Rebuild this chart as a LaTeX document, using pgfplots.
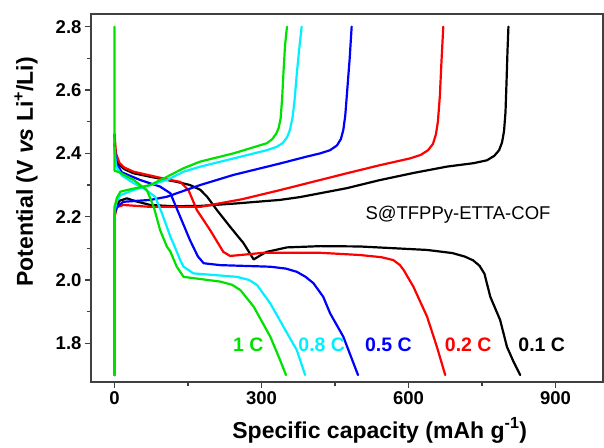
\documentclass[border=0pt]{standalone}
\usepackage{pgfplots}
\pgfplotsset{compat=1.18}
\usepackage{fontspec}
\setmainfont{Liberation Sans}
\definecolor{cgreen}{RGB}{0,225,0}
\definecolor{ccyan}{RGB}{0,240,255}
\begin{document}
\begin{tikzpicture}
\begin{axis}[
  scale only axis,
  width=512pt, height=368pt,
  xmin=-48, xmax=997, ymin=1.678, ymax=2.84,
  xtick={0,300,600,900}, ytick={1.8,2.0,2.2,2.4,2.6,2.8},
  minor x tick num=1, minor y tick num=1,
  xtick pos=left, ytick pos=left, tick align=outside,
  major tick length=6pt, minor tick length=4pt,
  axis line style={line width=1.3pt, black!75},
  every tick/.style={line width=1.1pt, black!75},
  /pgf/number format/assume math mode=true,
  yticklabel style={/pgf/number format/.cd,fixed,fixed zerofill,precision=1},
  tick label style={font=\fontsize{18.5}{20}\selectfont\bfseries},
  xlabel={Specific capacity (mAh g\textsuperscript{-1})},
  ylabel={Potential (V \textit{vs} Li\textsuperscript{+}/Li)},
  every axis x label/.style={at={([yshift=-56pt]axis description cs:0.564,0)}, anchor=base, font=\fontsize{23}{26}\selectfont\bfseries},
  every axis y label/.style={at={([xshift=-58pt]axis description cs:0,0.571)}, anchor=base, rotate=90, font=\fontsize{23}{26}\selectfont\bfseries},
  every axis plot/.append style={line width=2.2pt, line join=round, line cap=round},
  clip=false,
]
% 0.1 C black
\addplot[black] coordinates {(0,2.46) (1,2.40) (5,2.37) (20,2.35) (39,2.337) (73,2.326) (127,2.31) (154,2.30) (175,2.285) (189,2.263) (209,2.221) (236,2.168) (263,2.117) (284,2.065) (300,2.08) (311,2.089) (352,2.103) (420,2.107) (500,2.106) (638,2.095) (690,2.085) (715,2.074) (732,2.062) (745,2.045) (755,2.02) (767,1.947) (787,1.874) (801,1.789) (815,1.74) (828,1.70)};
\addplot[black] coordinates {(0,1.70) (0,2.20) (3,2.23) (10,2.25) (25,2.258) (45,2.248) (73,2.237) (120,2.233) (175,2.234) (250,2.242) (338,2.253) (379,2.262) (474,2.29) (540,2.315) (610,2.338) (678,2.358) (733,2.369) (760,2.378) (775,2.392) (785,2.41) (791,2.435) (795,2.47) (798,2.53) (800,2.62) (802,2.72) (804,2.80)};
% 0.2 C red
\addplot[red] coordinates {(0,2.46) (3,2.40) (10,2.37) (20,2.355) (39,2.342) (107,2.318) (134,2.31) (151,2.284) (168,2.221) (195,2.158) (222,2.089) (236,2.076) (250,2.078) (304,2.086) (420,2.086) (501,2.079) (545,2.072) (569,2.063) (582,2.048) (590,2.032) (610,1.979) (638,1.884) (658,1.789) (675,1.70)};
\addplot[red] coordinates {(0,1.70) (0,2.20) (5,2.23) (18,2.237) (73,2.231) (175,2.231) (260,2.255) (338,2.284) (379,2.30) (474,2.337) (540,2.362) (603,2.384) (625,2.395) (640,2.41) (650,2.43) (656,2.46) (660,2.50) (664,2.58) (667,2.68) (671,2.80)};
% 0.5 C blue
\addplot[blue] coordinates {(0,2.43) (3,2.37) (15,2.34) (52,2.316) (93,2.295) (114,2.274) (134,2.20) (154,2.126) (170,2.075) (182,2.053) (216,2.047) (318,2.042) (350,2.036) (372,2.026) (390,2.01) (406,1.99) (426,1.947) (440,1.895) (467,1.821) (497,1.70)};
\addplot[blue] coordinates {(0,1.70) (0,2.21) (5,2.231) (18,2.247) (73,2.253) (107,2.263) (175,2.30) (243,2.332) (338,2.368) (393,2.39) (420,2.40) (440,2.41) (454,2.425) (462,2.445) (467,2.474) (471,2.52) (475,2.6) (480,2.7) (484,2.80)};
% 0.8 C cyan
\addplot[ccyan] coordinates {(0,2.42) (3,2.36) (15,2.33) (40,2.305) (59,2.29) (83,2.263) (97,2.21) (114,2.137) (120,2.116) (134,2.063) (141,2.042) (161,2.021) (250,2.01) (275,2.0) (291,1.984) (318,1.926) (345,1.852) (372,1.779) (389,1.70)};
\addplot[ccyan] coordinates {(0,1.70) (0,2.22) (5,2.25) (12,2.268) (39,2.284) (107,2.316) (141,2.342) (175,2.358) (243,2.384) (311,2.41) (330,2.42) (343,2.432) (352,2.45) (358,2.474) (363,2.51) (367,2.56) (372,2.65) (377,2.73) (382,2.80)};
% 1 C green
\addplot[cgreen] coordinates {(0,2.80) (0,2.345) (10,2.34) (39,2.316) (66,2.284) (80,2.231) (93,2.158) (107,2.105) (114,2.09) (127,2.042) (141,2.01) (216,1.995) (240,1.985) (257,1.968) (284,1.916) (318,1.821) (338,1.747) (350,1.70)};
\addplot[cgreen] coordinates {(0,1.70) (0,2.231) (5,2.26) (12,2.279) (25,2.284) (73,2.30) (107,2.326) (141,2.353) (175,2.374) (243,2.40) (311,2.432) (322,2.445) (330,2.462) (335,2.48) (339,2.51) (342,2.57) (345,2.66) (348,2.74) (352,2.80)};
% labels
\node[font=\fontsize{18.5}{20}\selectfont] at (axis cs:701,2.205) {S@TFPPy-ETTA-COF};
\begin{scope}[every node/.style={font=\fontsize{19.5}{22}\selectfont\bfseries}]
\node[text=cgreen] at (axis cs:273,1.795) {1 C};
\node[text=ccyan] at (axis cs:423,1.795) {0.8 C};
\node[text=blue] at (axis cs:559,1.795) {0.5 C};
\node[text=red] at (axis cs:722,1.795) {0.2 C};
\node[text=black] at (axis cs:872,1.795) {0.1 C};
\end{scope}
\end{axis}
\pgfresetboundingbox
\path[use as bounding box] ([xshift=-91pt,yshift=-65pt]current axis.south west) rectangle ([xshift=1pt,yshift=14pt]current axis.north east);
\end{tikzpicture}
\end{document}
